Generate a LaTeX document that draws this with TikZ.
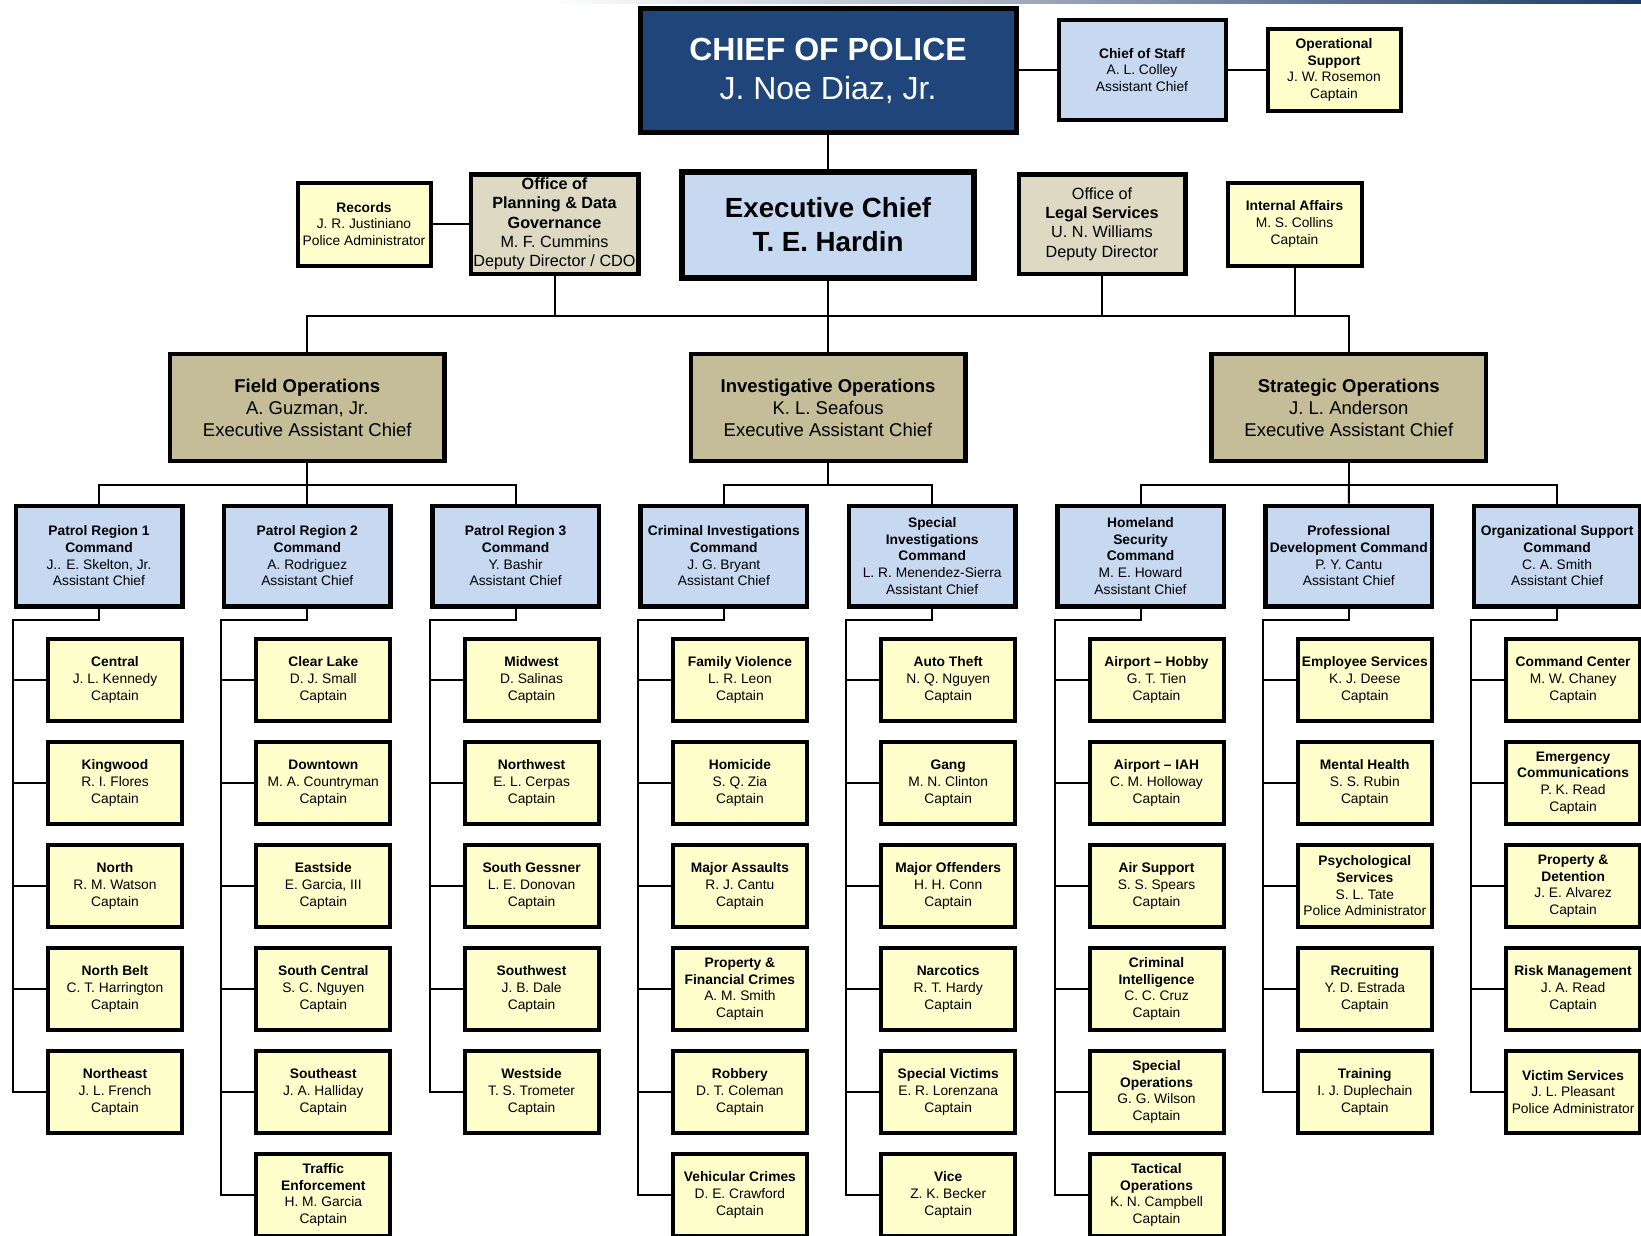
\documentclass[tikz,border=0pt]{standalone}
\usepackage{fontspec}
\setmainfont{Liberation Sans}
\definecolor{cyel}{HTML}{FFFFCC}
\definecolor{cblue}{HTML}{C6D9F1}
\definecolor{ctanL}{HTML}{DDD9C3}
\definecolor{ctanD}{HTML}{C4BD97}
\definecolor{cnavy}{HTML}{1F457B}
\definecolor{cline}{HTML}{1F3A66}
\newcommand\mysmall{\fontsize{13.8}{16.7}\selectfont}
\newcommand\mymid{\fontsize{16.2}{19.4}\selectfont}
\newcommand\mydiv{\fontsize{18.5}{22}\selectfont}
\newcommand\myexec{\fontsize{27.7}{34}\selectfont}
\newcommand\mychief{\fontsize{32}{39}\selectfont}
\newcommand\myb[1]{{\bfseries #1}}
\newcommand\capn[3]{\node[capt] (c#1r#2) at ({99+208.3*#1+16},{680+103*(#2-1)}) {#3};}
\newcommand\cmdn[2]{\node[cmd] (m#1) at ({99+208.3*#1},556) {#2};}
\begin{document}
\begin{tikzpicture}[x=1pt,y=-1pt,
  box/.style={draw=black,rectangle,inner sep=0pt,align=center},
  capt/.style={box,line width=4pt,fill=cyel,minimum width=134pt,minimum height=82.5pt,font=\mysmall},
  cmd/.style={box,line width=4.5pt,fill=cblue,minimum width=166.5pt,minimum height=100.5pt,font=\mysmall},
  divbox/.style={box,line width=4.5pt,fill=ctanD,minimum width=274.5pt,minimum height=107pt,font=\mydiv},
  conn/.style={line width=2pt}]
\clip (0,0) rectangle (1641,1236);
\fill[white] (0,0) rectangle (1641,1236);
\shade[left color=white,right color=cline] (550,0) rectangle (1641,3.5);

% top level
\node[box,line width=5pt,fill=cnavy,text=white,minimum width=376pt,minimum height=124pt,font=\mychief] (chief) at (828.05,70.5) {\myb{CHIEF OF POLICE}\\J. Noe Diaz, Jr.};
\node[box,line width=4pt,fill=cblue,minimum width=167pt,minimum height=100pt,font=\mysmall] (staff) at (1142,70) {\myb{Chief of Staff}\\A. L. Colley\\Assistant Chief};
\node[box,line width=4pt,fill=cyel,minimum width=133pt,minimum height=82pt,font=\mysmall] (ops) at (1334,70) {\myb{Operational}\\\myb{Support}\\J. W. Rosemon\\Captain};

\node[box,line width=6pt,fill=cblue,minimum width=292pt,minimum height=106pt,font=\myexec] (exec) at (828.05,224.5) {\myb{Executive Chief}\\\myb{T. E. Hardin}};
\node[box,line width=4.5pt,fill=ctanL,minimum width=167.5pt,minimum height=99.5pt,font=\mymid] (plan) at (554.5,224) {\myb{Office of}\\\myb{Planning \& Data}\\\myb{Governance}\\M. F. Cummins\\Deputy Director / CDO};
\node[box,line width=4pt,fill=cyel,minimum width=133pt,minimum height=83pt,font=\mysmall] (rec) at (364,224) {\myb{Records}\\J. R. Justiniano\\Police Administrator};
\node[box,line width=4.5pt,fill=ctanL,minimum width=166.5pt,minimum height=99.5pt,font=\mymid] (legal) at (1102,224) {Office of\\\myb{Legal Services}\\U. N. Williams\\Deputy Director};
\node[box,line width=4pt,fill=cyel,minimum width=134pt,minimum height=83pt,font=\mysmall] (ia) at (1294.5,224) {\myb{Internal Affairs}\\M. S. Collins\\Captain};

% divisions
\node[divbox] (fo) at (307.3,407.5) {\myb{Field Operations}\\A. Guzman, Jr.\\Executive Assistant Chief};
\node[divbox] (io) at (828.05,407.5) {\myb{Investigative Operations}\\K. L. Seafous\\Executive Assistant Chief};
\node[divbox] (so) at (1348.8,407.5) {\myb{Strategic Operations}\\J. L. Anderson\\Executive Assistant Chief};

% commands
\cmdn{0}{\myb{Patrol Region 1}\\\myb{Command}\\J.. E. Skelton, Jr.\\Assistant Chief}
\cmdn{1}{\myb{Patrol Region 2}\\\myb{Command}\\A. Rodriguez\\Assistant Chief}
\cmdn{2}{\myb{Patrol Region 3}\\\myb{Command}\\Y. Bashir\\Assistant Chief}
\cmdn{3}{\myb{Criminal Investigations}\\\myb{Command}\\J. G. Bryant\\Assistant Chief}
\cmdn{4}{\myb{Special}\\\myb{Investigations}\\\myb{Command}\\L. R. Menendez-Sierra\\Assistant Chief}
\cmdn{5}{\myb{Homeland}\\\myb{Security}\\\myb{Command}\\M. E. Howard\\Assistant Chief}
\cmdn{6}{\myb{Professional}\\\myb{Development Command}\\P. Y. Cantu\\Assistant Chief}
\cmdn{7}{\myb{Organizational Support}\\\myb{Command}\\C. A. Smith\\Assistant Chief}

% captains
\capn{0}{1}{\myb{Central}\\J. L. Kennedy\\Captain}
\capn{0}{2}{\myb{Kingwood}\\R. I. Flores\\Captain}
\capn{0}{3}{\myb{North}\\R. M. Watson\\Captain}
\capn{0}{4}{\myb{North Belt}\\C. T. Harrington\\Captain}
\capn{0}{5}{\myb{Northeast}\\J. L. French\\Captain}

\capn{1}{1}{\myb{Clear Lake}\\D. J. Small\\Captain}
\capn{1}{2}{\myb{Downtown}\\M. A. Countryman\\Captain}
\capn{1}{3}{\myb{Eastside}\\E. Garcia, III\\Captain}
\capn{1}{4}{\myb{South Central}\\S. C. Nguyen\\Captain}
\capn{1}{5}{\myb{Southeast}\\J. A. Halliday\\Captain}
\capn{1}{6}{\myb{Traffic}\\\myb{Enforcement}\\H. M. Garcia\\Captain}

\capn{2}{1}{\myb{Midwest}\\D. Salinas\\Captain}
\capn{2}{2}{\myb{Northwest}\\E. L. Cerpas\\Captain}
\capn{2}{3}{\myb{South Gessner}\\L. E. Donovan\\Captain}
\capn{2}{4}{\myb{Southwest}\\J. B. Dale\\Captain}
\capn{2}{5}{\myb{Westside}\\T. S. Trometer\\Captain}

\capn{3}{1}{\myb{Family Violence}\\L. R. Leon\\Captain}
\capn{3}{2}{\myb{Homicide}\\S. Q. Zia\\Captain}
\capn{3}{3}{\myb{Major Assaults}\\R. J. Cantu\\Captain}
\capn{3}{4}{\myb{Property \&}\\\myb{Financial Crimes}\\A. M. Smith\\Captain}
\capn{3}{5}{\myb{Robbery}\\D. T. Coleman\\Captain}
\capn{3}{6}{\myb{Vehicular Crimes}\\D. E. Crawford\\Captain}

\capn{4}{1}{\myb{Auto Theft}\\N. Q. Nguyen\\Captain}
\capn{4}{2}{\myb{Gang}\\M. N. Clinton\\Captain}
\capn{4}{3}{\myb{Major Offenders}\\H. H. Conn\\Captain}
\capn{4}{4}{\myb{Narcotics}\\R. T. Hardy\\Captain}
\capn{4}{5}{\myb{Special Victims}\\E. R. Lorenzana\\Captain}
\capn{4}{6}{\myb{Vice}\\Z. K. Becker\\Captain}

\capn{5}{1}{\myb{Airport – Hobby}\\G. T. Tien\\Captain}
\capn{5}{2}{\myb{Airport – IAH}\\C. M. Holloway\\Captain}
\capn{5}{3}{\myb{Air Support}\\S. S. Spears\\Captain}
\capn{5}{4}{\myb{Criminal}\\\myb{Intelligence}\\C. C. Cruz\\Captain}
\capn{5}{5}{\myb{Special}\\\myb{Operations}\\G. G. Wilson\\Captain}
\capn{5}{6}{\myb{Tactical}\\\myb{Operations}\\K. N. Campbell\\Captain}

\capn{6}{1}{\myb{Employee Services}\\K. J. Deese\\Captain}
\capn{6}{2}{\myb{Mental Health}\\S. S. Rubin\\Captain}
\capn{6}{3}{\myb{Psychological}\\\myb{Services}\\S. L. Tate\\Police Administrator}
\capn{6}{4}{\myb{Recruiting}\\Y. D. Estrada\\Captain}
\capn{6}{5}{\myb{Training}\\I. J. Duplechain\\Captain}

\capn{7}{1}{\myb{Command Center}\\M. W. Chaney\\Captain}
\capn{7}{2}{\myb{Emergency}\\\myb{Communications}\\P. K. Read\\Captain}
\capn{7}{3}{\myb{Property \&}\\\myb{Detention}\\J. E. Alvarez\\Captain}
\capn{7}{4}{\myb{Risk Management}\\J. A. Read\\Captain}
\capn{7}{5}{\myb{Victim Services}\\J. L. Pleasant\\Police Administrator}

% connectors top
\draw[conn] (staff.west) -- (staff.west -| chief.east);
\draw[conn] (ops.west) -- (ops.west -| staff.east);
\draw[conn] (chief.south) -- (exec.north);
\draw[conn] (rec.east) -- (plan.west);
\coordinate (busL) at (307.3,316);
\coordinate (busR) at (1348.8,316);
\draw[conn] (fo.north) -- (busL) -- (busR) -- (so.north);
\draw[conn] (plan.south) -- (plan.south |- busL);
\draw[conn] (legal.south) -- (legal.south |- busL);
\draw[conn] (ia.south) -- (ia.south |- busL);
\draw[conn] (exec.south) -- (io.north);

% division to commands
\coordinate (fb) at (307.3,484.5);
\coordinate (ib) at (828.05,484.5);
\coordinate (sb) at (1348.8,484.5);
\draw[conn] (fo.south) -- (fb);
\draw[conn] (m0.north) |- (fb) -| (m2.north);
\draw[conn] (fb) -- (m1.north);
\draw[conn] (io.south) -- (ib);
\draw[conn] (m3.north) |- (ib) -| (m4.north);
\draw[conn] (so.south) -- (sb);
\draw[conn] (m5.north) |- (sb) -| (m7.north);
\draw[conn] (sb) -- (m6.north);

% spines
\foreach \i/\nn in {0/5,1/6,2/5,3/6,4/6,5/6,6/5,7/5} {
  \coordinate (sp\i) at ({99+208.3*\i-86},620);
  \draw[conn] (m\i.south) |- (sp\i) |- (c\i r\nn.west);
  \foreach \k in {1,...,\nn} {
    \draw[conn] (c\i r\k.west) -- (c\i r\k.west -| sp\i);
  }
}
\end{tikzpicture}
\end{document}
